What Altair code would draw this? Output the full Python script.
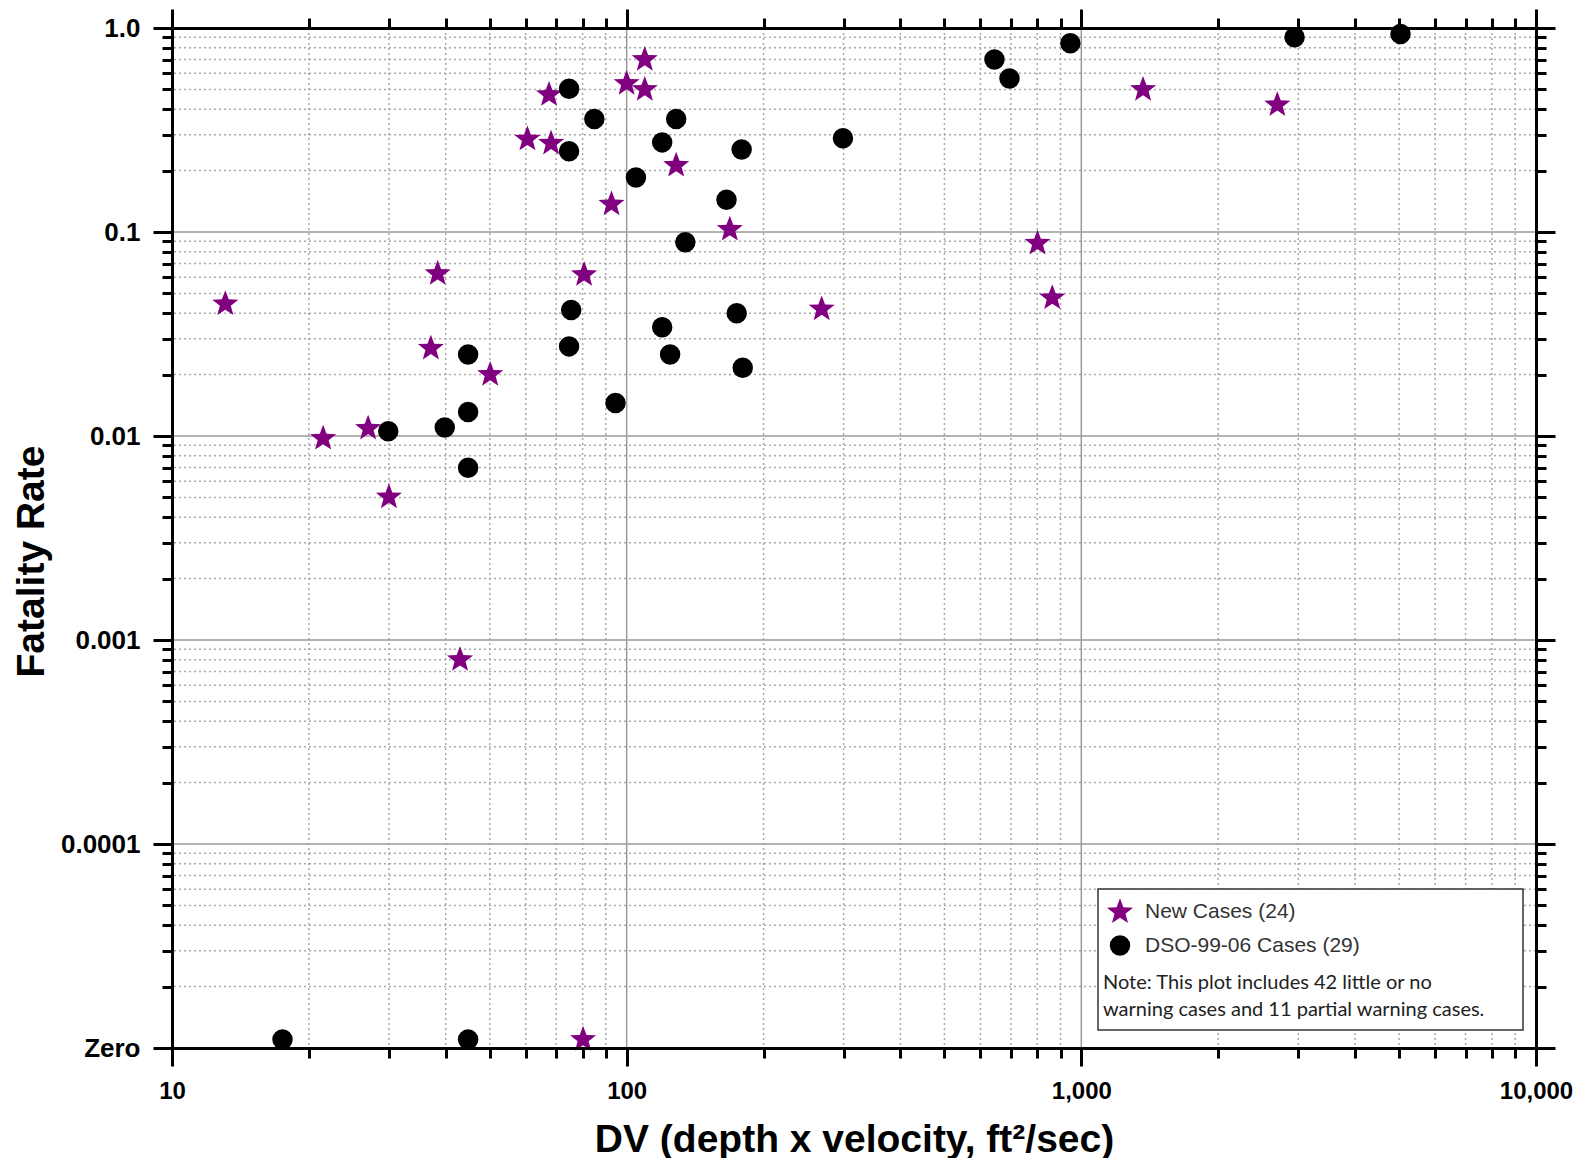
import altair as alt
import pandas as pd

# ---------------- data ----------------
series_names = ["New Cases (24)", "DSO-99-06 Cases (29)"]

new_dv = [13.1, 21.5, 27.0, 30.0, 37.1, 38.4, 43.0, 50.1, 60.5, 67.5, 68.2, 80.2,
          80.6, 92.6, 100, 109.6, 109.6, 128.5, 168.6, 268.5, 801, 863, 1367, 2698]
new_rate = [0.0444, 0.00973, 0.0109, 0.00502, 0.0269, 0.0625, 0.0008, 0.020, 0.285,
            0.471, 0.272, 0, 0.0618, 0.137, 0.534, 0.70, 0.499, 0.212, 0.103, 0.0419,
            0.088, 0.0475, 0.499, 0.42]

dso_dv = [17.5, 29.9, 39.8, 44.8, 44.8, 44.8, 44.8, 74.7, 74.7, 75.5, 74.7, 84.9,
          94.5, 104.8, 119.7, 119.7, 124.6, 128.5, 134.6, 165.8, 174.6, 179, 180,
          299, 644, 695, 946, 2944, 5035]
dso_rate = [0, 0.01054, 0.0110, 0.0251, 0.0131, 0.00699, 0, 0.504, 0.249, 0.0415,
            0.0275, 0.358, 0.0145, 0.185, 0.275, 0.0341, 0.0251, 0.358, 0.089, 0.144,
            0.040, 0.254, 0.0216, 0.288, 0.70, 0.565, 0.843, 0.902, 0.934]

x_major = [10, 100, 1000, 10000]
x_major_labels = ["10", "100", "1,000", "10,000"]
x_minor = [m * d for d in (10, 100, 1000) for m in range(2, 10)]
x_grid_major = [100, 1000]

y_major = [1e-5, 1e-4, 1e-3, 1e-2, 0.1, 1.0]
y_major_labels = ["Zero", "0.0001", "0.001", "0.01", "0.1", "1.0"]
y_minor = [m * d for d in (1e-5, 1e-4, 1e-3, 1e-2, 0.1) for m in range(2, 10)]
y_grid_major = [1e-4, 1e-3, 1e-2, 0.1]

note_lines = ["Note: This plot includes 42 little or no",
              "warning cases and 11 partial warning cases."]

ZERO_PLOT = 1.1e-5  # where "Zero" cases are drawn (just above the Zero baseline)

# ---------------- build tables ----------------
pts = pd.DataFrame({
    "dv": new_dv + dso_dv,
    "rate": new_rate + dso_rate,
    "series": [series_names[0]] * len(new_dv) + [series_names[1]] * len(dso_dv),
})

W, H = 1364, 1020
FONT = "Liberation Sans"
STAR = ("M0,-1L0.2469,-0.3399L0.951,-0.309L0.3996,0.1298L0.5878,0.809L0,0.42"
        "L-0.5878,0.809L-0.3996,0.1298L-0.951,-0.309L-0.2469,-0.3399Z")

xscale = alt.Scale(type="log", domain=[10, 10000], nice=False)
yscale = alt.Scale(type="log", domain=[1e-5, 1], nice=False)


def label_expr(values, labels):
    parts = [f"abs(log(datum.value) - log({v})) < 0.01 ? '{l}'" for v, l in zip(values, labels)]
    return " : ".join(parts) + " : ''"


def plain_axis(orient, values, size, domain):
    return alt.Axis(orient=orient, values=values, labels=False, tickSize=size,
                    tickWidth=3, tickColor="black", domain=domain, domainWidth=3,
                    domainColor="black", grid=False, title=None, zindex=1)


# grid layers (also carrying the extra tick axes)
minx = pd.DataFrame({"v": x_minor})
miny = pd.DataFrame({"v": y_minor})
majx = pd.DataFrame({"v": x_grid_major})
majy = pd.DataFrame({"v": y_grid_major})

minor_style = dict(color="#a8a8a8", strokeDash=[2, 3], strokeWidth=1.5)
major_style = dict(color="#9a9a9a", strokeWidth=1.5)

g_minx = alt.Chart(minx).mark_rule(**minor_style).encode(
    x=alt.X("v:Q", scale=xscale, axis=plain_axis("bottom", x_minor, 10, False)))
g_minx_top = alt.Chart(minx).mark_rule(opacity=0).encode(
    x=alt.X("v:Q", scale=xscale, axis=plain_axis("top", x_minor, 10, False)))
g_majx = alt.Chart(majx).mark_rule(**major_style).encode(
    x=alt.X("v:Q", scale=xscale, axis=plain_axis("top", x_major, 19, True)))

g_miny = alt.Chart(miny).mark_rule(**minor_style).encode(
    y=alt.Y("v:Q", scale=yscale, axis=plain_axis("left", y_minor, 10, False)))
g_miny_right = alt.Chart(miny).mark_rule(opacity=0).encode(
    y=alt.Y("v:Q", scale=yscale, axis=plain_axis("right", y_minor, 10, False)))
g_majy = alt.Chart(majy).mark_rule(**major_style).encode(
    y=alt.Y("v:Q", scale=yscale, axis=plain_axis("right", y_major, 19, True)))

# legend box + note
box = alt.Chart(pd.DataFrame({"a": [0]})).mark_rect(
    fill="white", stroke="#333333", strokeWidth=1.5).encode(
    x=alt.value(926), x2=alt.value(1351), y=alt.value(861), y2=alt.value(1002))

note = alt.Chart(pd.DataFrame({"a": [0]})).mark_text(
    text=note_lines, font="Lato", fontSize=20, color="#222222", align="left",
    baseline="alphabetic", lineHeight=27).encode(x=alt.value(931), y=alt.value(961))

legend = alt.Legend(title=None, orient="none", legendX=934, legendY=870)

points = alt.Chart(pts).transform_calculate(
    plot_rate=f"datum.rate == 0 ? {ZERO_PLOT} : datum.rate"
).mark_point(filled=True, opacity=1, strokeWidth=0).encode(
    x=alt.X("dv:Q", scale=xscale, axis=alt.Axis(
        orient="bottom", values=x_major, labelExpr=label_expr(x_major, x_major_labels),
        tickSize=18, tickWidth=3, tickColor="black", domain=True, domainWidth=3,
        domainColor="black", grid=False, labelFont=FONT, labelFontWeight="bold",
        labelFontSize=24, labelColor="black", labelPadding=13, labelFlush=False,
        labelOverlap=False, title="DV (depth x velocity, ft²/sec)", titleFont=FONT,
        titleFontSize=39, titleFontWeight="bold", titleColor="black",
        titleX=W / 2, titleY=103, titleAlign="center", titleBaseline="alphabetic",
        zindex=1)),
    y=alt.Y("plot_rate:Q", scale=yscale, axis=alt.Axis(
        orient="left", values=y_major, labelExpr=label_expr(y_major, y_major_labels),
        tickSize=19, tickWidth=3, tickColor="black", domain=True, domainWidth=3,
        domainColor="black", grid=False, labelFont=FONT, labelFontWeight="bold",
        labelFontSize=26, labelColor="black", labelPadding=13, labelFlush=False,
        labelOverlap=False, title="Fatality Rate", titleFont=FONT, titleFontSize=39,
        titleFontWeight="bold", titleColor="black", titleX=-129, titleY=533,
        titleAngle=270, titleAlign="center", titleBaseline="alphabetic", zindex=1)),
    color=alt.Color("series:N", scale=alt.Scale(domain=series_names, range=["#800080", "black"]),
                    legend=legend),
    shape=alt.Shape("series:N", scale=alt.Scale(domain=series_names, range=[STAR, "circle"]),
                    legend=legend),
    size=alt.Size("series:N", scale=alt.Scale(domain=series_names, range=[750, 420]),
                  legend=legend),
)

chart = alt.layer(
    g_minx, g_miny, g_majx, g_majy, g_minx_top, g_miny_right, box, points, note
).resolve_axis(
    x="independent", y="independent"
).properties(
    width=W, height=H,
    autosize=alt.AutoSizeParams(type="none"),
    padding={"left": 164, "top": 20, "right": 38, "bottom": 110},
).configure_view(
    stroke=None
).configure_legend(
    labelFont=FONT, labelFontSize=21, labelColor="#333333", labelOffset=11,
    labelLimit=500, rowPadding=10, padding=0, symbolStrokeWidth=0
)

chart.save("out.html", embed_options={"renderer": "svg", "actions": False})
